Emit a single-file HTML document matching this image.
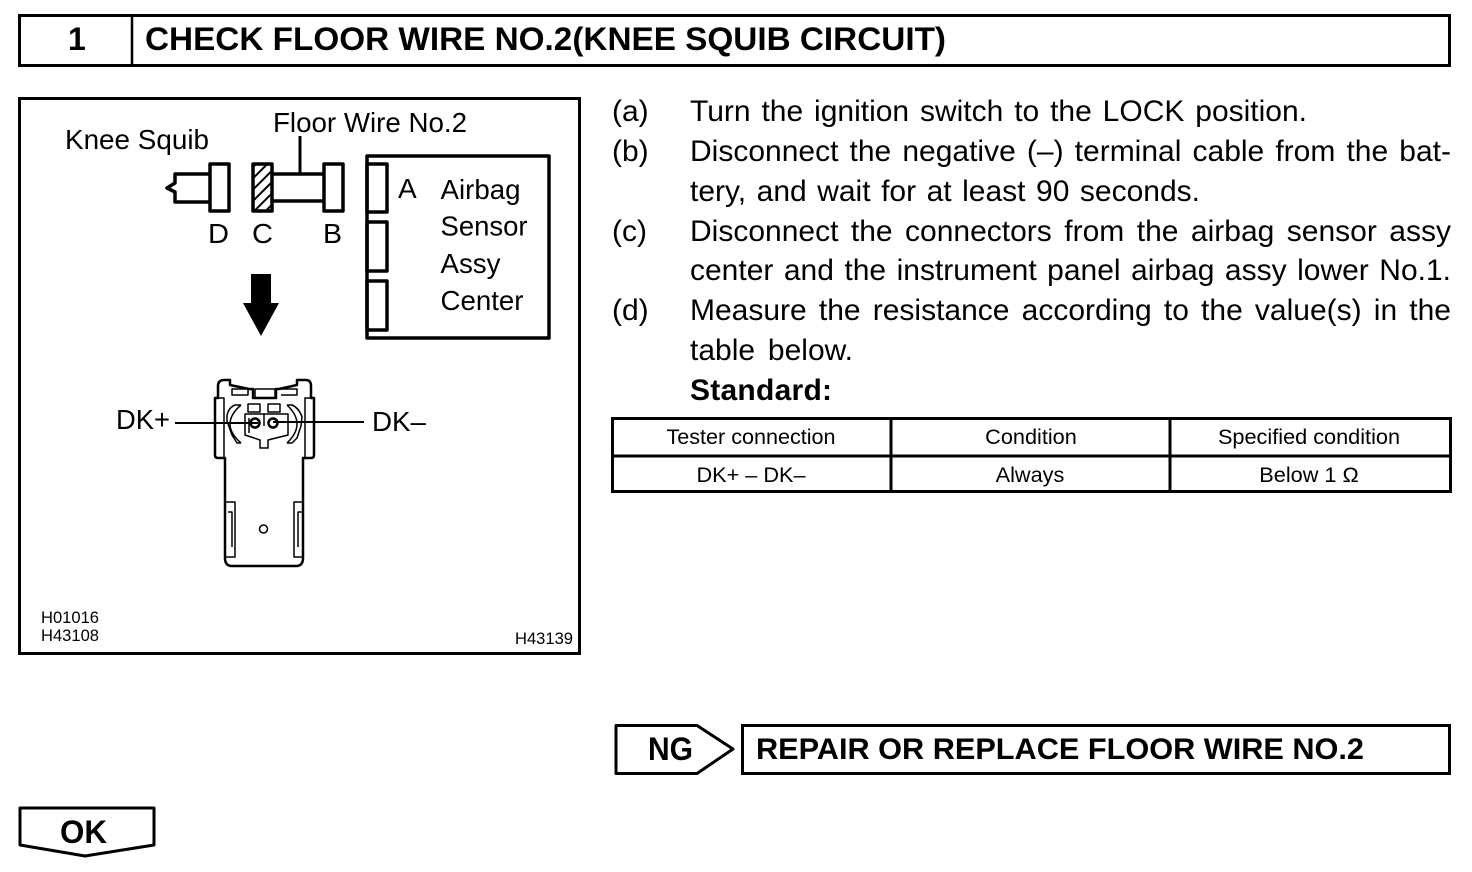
<!DOCTYPE html>
<html>
<head>
<meta charset="utf-8">
<style>
html,body{margin:0;padding:0;background:#fff;width:1472px;height:872px;overflow:hidden}
svg{display:block;position:absolute;left:0;top:0}
text{font-family:"Liberation Sans",sans-serif;fill:#000}
.b{font-weight:bold}
.t{font-size:21.7px;text-anchor:middle}
.d{font-size:28px}
.s{font-size:16.5px}
.l{position:absolute;font:30px/40px "Liberation Sans",sans-serif;color:#000;white-space:nowrap;text-align:justify;text-align-last:justify}
.m{position:absolute;font:30px/40px "Liberation Sans",sans-serif;color:#000;white-space:nowrap;left:612px}
</style>
</head>
<body>
<svg width="1472" height="872" viewBox="0 0 1472 872" xmlns="http://www.w3.org/2000/svg">
<defs>
<pattern id="h" width="8" height="8" patternUnits="userSpaceOnUse" patternTransform="rotate(45)">
<rect width="8" height="8" fill="#fff"/><rect width="2" height="8" fill="#000"/>
</pattern>
</defs>

<!-- header -->
<rect x="19.5" y="15.5" width="1430" height="50" fill="none" stroke="#000" stroke-width="3"/>
<line x1="132" y1="15" x2="132" y2="66" stroke="#000" stroke-width="2.5"/>
<text class="b" x="68" y="50" font-size="32">1</text>
<text class="b" x="145" y="50" font-size="32" textLength="801" lengthAdjust="spacingAndGlyphs">CHECK FLOOR WIRE NO.2(KNEE SQUIB CIRCUIT)</text>

<!-- diagram frame -->
<rect x="19.5" y="98.5" width="560" height="555" fill="none" stroke="#000" stroke-width="3"/>

<text class="d" x="65" y="149" textLength="144" lengthAdjust="spacingAndGlyphs">Knee Squib</text>
<text class="d" x="273" y="132" textLength="194" lengthAdjust="spacingAndGlyphs">Floor Wire No.2</text>

<g fill="none" stroke="#000" stroke-width="3.5" stroke-linejoin="round">
<line x1="300" y1="136" x2="300" y2="173" stroke-width="3"/>
<path d="M210 174H175V183L167 188L175 192V202H210"/>
<rect x="210" y="164" width="19" height="47" fill="#fff"/>
<path d="M272 174H324M272 201H324"/>
<rect x="253" y="164" width="19" height="47" fill="url(#h)"/>
<rect x="324" y="164" width="19" height="47" fill="#fff"/>
<rect x="367" y="156" width="182" height="182"/>
<rect x="367" y="164" width="20" height="48"/>
<rect x="367" y="222" width="20" height="49"/>
<rect x="367" y="281" width="20" height="49"/>
</g>
<text class="d" x="208" y="243" textLength="21" lengthAdjust="spacingAndGlyphs">D</text>
<text class="d" x="252" y="243" textLength="21" lengthAdjust="spacingAndGlyphs">C</text>
<text class="d" x="323" y="243" textLength="19" lengthAdjust="spacingAndGlyphs">B</text>
<text class="d" x="398" y="198">A</text>
<text class="d" x="440.500" y="199" textLength="80" lengthAdjust="spacingAndGlyphs">Airbag</text>
<text class="d" x="440.500" y="235.500" textLength="87" lengthAdjust="spacingAndGlyphs">Sensor</text>
<text class="d" x="440.500" y="273" textLength="60" lengthAdjust="spacingAndGlyphs">Assy</text>
<text class="d" x="440.500" y="310" textLength="83" lengthAdjust="spacingAndGlyphs">Center</text>

<!-- big arrow -->
<polygon points="251,274 271,274 271,303 279,303 261,336 243,303 251,303" fill="#000"/>

<!-- connector -->
<g fill="none" stroke="#000" stroke-width="1.5" stroke-linejoin="round">
<path d="M225 458H218Q215 458 215 455V398H218V386Q218 380 224 380H230V385L249 389H253V398H276V389H279L297 385V380H306Q311 380 311 386V398H314V455Q314 458 311 458H303V558Q303 566 296 566H232Q225 566 225 558Z" stroke-width="2.5"/>
<path d="M216 398H224V458M313 398H305V458"/>
<path d="M232 389H248V395H232ZM281 389H297V395H281M255 389H275V398H255Z"/>
<path d="M241 405H235Q228 408 227 416V421L232 435L237 443H241M241 405Q219 424 241 443"/>
<path d="M287 405H292Q299 408 302 417L301 426L297 438L292 443H287M287 405Q307 424 287 443"/>
<rect x="248" y="404" width="12" height="8"/>
<rect x="268" y="404" width="12" height="8"/>
<path d="M245 414H288V435L268 440V448H260V440L245 435Z"/>
<path d="M249 418V433M264 414V426"/>
<circle cx="255" cy="423" r="4.500" stroke-width="2.500"/>
<circle cx="273" cy="423" r="4.500" stroke-width="2.500"/>
<path d="M226 502H235V557H226M228 512H232V547M303 502H294V557H303M302 512H298V547"/>
<circle cx="263.500" cy="529" r="4"/>
</g>
<line x1="175" y1="423" x2="258" y2="423" stroke="#000" stroke-width="2"/>
<line x1="273" y1="422" x2="364" y2="422" stroke="#000" stroke-width="2"/>
<text class="d" x="116" y="429" textLength="54" lengthAdjust="spacingAndGlyphs">DK+</text>
<text class="d" x="372" y="431" textLength="54" lengthAdjust="spacingAndGlyphs">DK–</text>

<text class="s" x="41" y="623" textLength="58" lengthAdjust="spacingAndGlyphs">H01016</text>
<text class="s" x="41" y="641" textLength="58" lengthAdjust="spacingAndGlyphs">H43108</text>
<text class="s" x="515" y="644" textLength="58" lengthAdjust="spacingAndGlyphs">H43139</text>

<!-- table -->
<g fill="none" stroke="#000" stroke-width="3">
<rect x="612.5" y="418.5" width="838" height="73"/>
<line x1="612" y1="456" x2="1451" y2="456"/>
<line x1="891" y1="418" x2="891" y2="491"/>
<line x1="1170" y1="418" x2="1170" y2="491"/>
</g>
<text class="t" x="751" y="444" textLength="169" lengthAdjust="spacingAndGlyphs">Tester connection</text>
<text class="t" x="1031" y="444">Condition</text>
<text class="t" x="1309" y="444">Specified condition</text>
<text class="t" x="751" y="482">DK+ – DK–</text>
<text class="t" x="1030" y="482">Always</text>
<text class="t" x="1309" y="482">Below 1 Ω</text>

<!-- NG -->
<path d="M616 725.5H697L733 749L697 773.5H616Z" fill="none" stroke="#000" stroke-width="3" stroke-linejoin="round"/>
<text class="b" x="648" y="760" font-size="32" textLength="45" lengthAdjust="spacingAndGlyphs">NG</text>
<rect x="742.5" y="725.5" width="707" height="48" fill="none" stroke="#000" stroke-width="3"/>
<text class="b" x="756" y="759" font-size="30" textLength="608" lengthAdjust="spacingAndGlyphs">REPAIR OR REPLACE FLOOR WIRE NO.2</text>

<!-- OK -->
<path d="M20 808H154V845L85 856L20 845Z" fill="none" stroke="#000" stroke-width="3" stroke-linejoin="round"/>
<text class="b" x="60" y="843" font-size="32" textLength="47" lengthAdjust="spacingAndGlyphs">OK</text>
</svg>

<!-- instructions -->
<div class="m" style="top:92px">(a)</div>
<div class="l" style="left:690px;top:92px;width:617px">Turn the ignition switch to the LOCK position.</div>
<div class="m" style="top:132px">(b)</div>
<div class="l" style="left:690px;top:132px;width:761px">Disconnect the negative (–) terminal cable from the bat-</div>
<div class="l" style="left:690px;top:172px;width:510px">tery, and wait for at least 90 seconds.</div>
<div class="m" style="top:212px">(c)</div>
<div class="l" style="left:690px;top:212px;width:761px">Disconnect the connectors from the airbag sensor assy</div>
<div class="l" style="left:690px;top:251px;width:761px">center and the instrument panel airbag assy lower No.1.</div>
<div class="m" style="top:291px">(d)</div>
<div class="l" style="left:690px;top:291px;width:761px">Measure the resistance according to the value(s) in the</div>
<div class="l" style="left:690px;top:331px;width:163px">table below.</div>
<div class="m" style="left:690px;top:371px;font-weight:bold;letter-spacing:.25px">Standard:</div>
</body>
</html>
